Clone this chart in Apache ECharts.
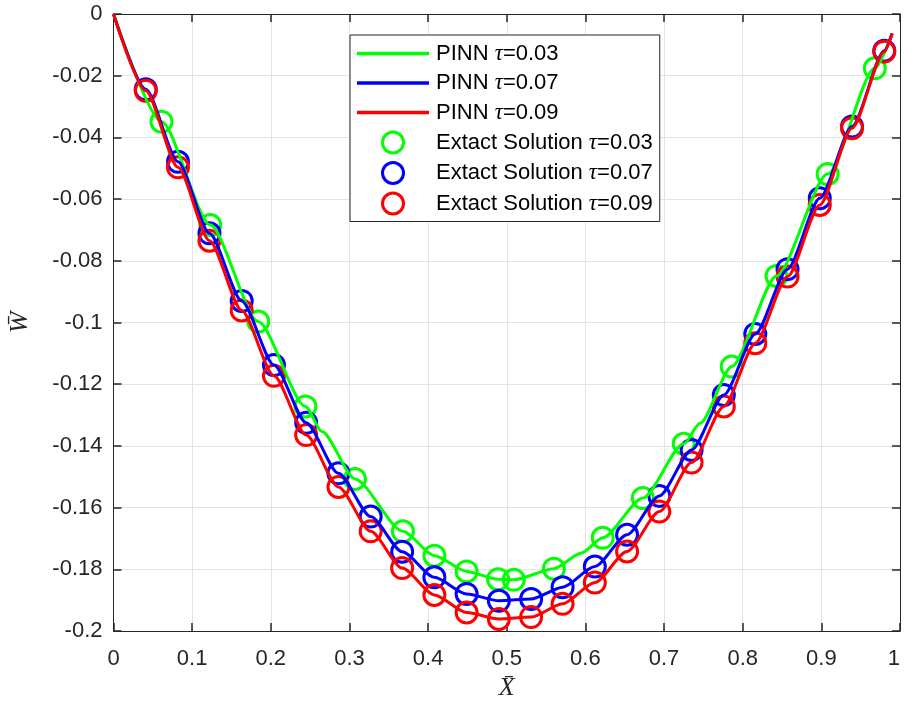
<!DOCTYPE html>
<html>
<head>
<meta charset="utf-8">
<script src="https://cdn.jsdelivr.net/npm/echarts@6/dist/echarts.min.js"></script>
<style>
html,body{margin:0;padding:0;background:#fff;}
#chart{width:904px;height:701px;}
</style>
</head>
<body>
<div id="chart"></div>
<script>
// Exact solution markers (tau = 0.07 and 0.09 share x positions)
const xMarkers = [0.041,0.082,0.122,0.163,0.204,0.245,0.286,0.327,0.367,0.408,0.449,0.490,0.531,0.571,0.612,0.653,0.694,0.735,0.776,0.816,0.857,0.898,0.939,0.980];
const exact07 = [-0.0244,-0.0479,-0.0711,-0.0930,-0.1138,-0.1325,-0.1489,-0.1629,-0.1743,-0.1826,-0.1880,-0.1902,-0.1896,-0.1858,-0.1791,-0.1688,-0.1562,-0.1413,-0.1235,-0.1037,-0.0827,-0.0597,-0.0365,-0.0119];
const exact09 = [-0.0249,-0.0497,-0.0735,-0.0961,-0.1173,-0.1365,-0.1533,-0.1677,-0.1796,-0.1883,-0.1940,-0.1961,-0.1955,-0.1912,-0.1843,-0.1742,-0.1613,-0.1454,-0.1272,-0.1067,-0.0851,-0.0619,-0.0370,-0.0122];
const xExact03 = [0.061,0.123,0.184,0.244,0.307,0.368,0.408,0.449,0.489,0.509,0.560,0.622,0.673,0.725,0.786,0.843,0.908,0.968];
const exact03 = [-0.0349,-0.0684,-0.0997,-0.1272,-0.1507,-0.1677,-0.1756,-0.1807,-0.1832,-0.1834,-0.1798,-0.1698,-0.1569,-0.1393,-0.1143,-0.0849,-0.0519,-0.0176];

// PINN curves
const xPinn03 = [0,0.061,0.123,0.184,0.244,0.265,0.307,0.368,0.408,0.449,0.489,0.509,0.560,0.595,0.622,0.673,0.725,0.746,0.786,0.843,0.908,0.968,0.99];
const pinn03 = [0,-0.0349,-0.0684,-0.0997,-0.1272,-0.1353,-0.1507,-0.1677,-0.1756,-0.1807,-0.1832,-0.1834,-0.1798,-0.1747,-0.1698,-0.1569,-0.1393,-0.1326,-0.1143,-0.0849,-0.0519,-0.0176,-0.0063];
const xPinn = [0,0.041,0.082,0.122,0.163,0.204,0.245,0.286,0.327,0.367,0.408,0.449,0.490,0.531,0.571,0.612,0.653,0.694,0.735,0.776,0.816,0.857,0.898,0.939,0.980,0.99];
const pinn07 = [0,-0.0244,-0.0479,-0.0711,-0.0930,-0.1138,-0.1325,-0.1489,-0.1629,-0.1743,-0.1826,-0.1880,-0.1902,-0.1896,-0.1858,-0.1791,-0.1688,-0.1562,-0.1413,-0.1235,-0.1037,-0.0827,-0.0597,-0.0365,-0.0119,-0.0063];
const pinn09 = [0,-0.0249,-0.0497,-0.0735,-0.0961,-0.1173,-0.1365,-0.1533,-0.1677,-0.1796,-0.1883,-0.1940,-0.1961,-0.1955,-0.1912,-0.1843,-0.1742,-0.1613,-0.1454,-0.1272,-0.1067,-0.0851,-0.0619,-0.0370,-0.0122,-0.0063];

const seriesNames = ['PINN τ=0.03','PINN τ=0.07','PINN τ=0.09','Extact Solution τ=0.03','Extact Solution τ=0.07','Extact Solution τ=0.09'];
const colors = ['#00ff00','#0000ff','#ff0000'];

const zip = (xs, ys) => xs.map((x, i) => [x, ys[i]]);

const axisColor = '#262626';
const gridColor = '#e3e3e3';
const font = 'Liberation Sans, Arial, sans-serif';

function lineSeries(name, xs, ys, color) {
  return {
    name, type: 'line', data: zip(xs, ys), symbol: 'none',
    smooth: 0.25, smoothMonotone: 'x',
    lineStyle: { color, width: 3 }, itemStyle: { color },
    xAxisIndex: 0, yAxisIndex: 0, animation: false
  };
}
function scatterSeries(name, xs, ys, color) {
  return {
    name, type: 'scatter', data: zip(xs, ys), symbol: 'circle', symbolSize: 21,
    itemStyle: { color: 'rgba(0,0,0,0)', borderColor: color, borderWidth: 3, opacity: 1 },
    xAxisIndex: 0, yAxisIndex: 0, animation: false
  };
}

const chart = echarts.init(document.getElementById('chart'), null, { renderer: 'canvas' });
chart.setOption({
  animation: false,
  backgroundColor: '#ffffff',
  grid: { left: 113.5, right: 4, top: 14, bottom: 70, containLabel: false, outerBoundsMode: 'none' },
  xAxis: [
    {
      type: 'value', position: 'bottom', min: 0, max: 1, interval: 0.1,
      name: 'X\u0304', nameLocation: 'middle', nameGap: 44,
      nameTextStyle: { fontFamily: 'Liberation Serif, serif', fontStyle: 'italic', fontSize: 26, color: axisColor },
      axisLine: { show: true, onZero: false, lineStyle: { color: axisColor, width: 1 } },
      axisTick: { show: true, inside: true, length: 8, lineStyle: { color: axisColor, width: 1.5 } },
      axisLabel: { fontSize: 22, fontFamily: font, color: axisColor, margin: 17, alignMaxLabel: 'right' },
      splitLine: { show: true, lineStyle: { color: gridColor, width: 1 } }
    },
    {
      type: 'value', position: 'top', min: 0, max: 1, interval: 0.1,
      axisLine: { show: true, onZero: false, lineStyle: { color: axisColor, width: 1 } },
      axisTick: { show: true, inside: true, length: 8, lineStyle: { color: axisColor, width: 1.5 } },
      axisLabel: { show: false }, splitLine: { show: false }
    }
  ],
  yAxis: [
    {
      type: 'value', position: 'left', min: -0.2, max: 0, interval: 0.02,
      name: 'W\u0304', nameLocation: 'middle', nameGap: 80,
      nameTextStyle: { fontFamily: 'Liberation Serif, serif', fontStyle: 'italic', fontSize: 26, color: axisColor },
      axisLine: { show: true, onZero: false, lineStyle: { color: axisColor, width: 1 } },
      axisTick: { show: true, inside: true, length: 8, lineStyle: { color: axisColor, width: 1.5 } },
      axisLabel: { fontSize: 22, fontFamily: font, color: axisColor, margin: 11 },
      splitLine: { show: true, lineStyle: { color: gridColor, width: 1 } }
    },
    {
      type: 'value', position: 'right', min: -0.2, max: 0, interval: 0.02,
      axisLine: { show: true, onZero: false, lineStyle: { color: axisColor, width: 1 } },
      axisTick: { show: true, inside: true, length: 8, lineStyle: { color: axisColor, width: 1.5 } },
      axisLabel: { show: false }, splitLine: { show: false }
    }
  ],
  legend: {
    orient: 'vertical', left: 350, top: 35,
    itemWidth: 72, itemHeight: 21, itemGap: 6.5, padding: [7, 7, 6, 7],
    backgroundColor: '#ffffff', borderColor: axisColor, borderWidth: 1, borderRadius: 0,
    data: seriesNames.map((n, i) => i < 3
      ? { name: n, icon: 'path://M0,0L72,0L72,3.5L0,3.5Z' }
      : { name: n, itemStyle: { borderWidth: 3 } }),
    formatter: (name) => name.replace('τ', '{t|τ}'),
    textStyle: {
      fontSize: 22, lineHeight: 21, fontFamily: font, color: '#000000', padding: [0, 0, 0, 2],
      rich: { t: { fontSize: 23, lineHeight: 21, fontFamily: 'Liberation Serif, serif', fontStyle: 'italic', color: '#000000' } }
    }
  },
  series: [
    lineSeries(seriesNames[0], xPinn03, pinn03, colors[0]),
    lineSeries(seriesNames[1], xPinn, pinn07, colors[1]),
    lineSeries(seriesNames[2], xPinn, pinn09, colors[2]),
    scatterSeries(seriesNames[3], xExact03, exact03, colors[0]),
    scatterSeries(seriesNames[4], xMarkers, exact07, colors[1]),
    scatterSeries(seriesNames[5], xMarkers, exact09, colors[2])
  ]
});
</script>
</body>
</html>
